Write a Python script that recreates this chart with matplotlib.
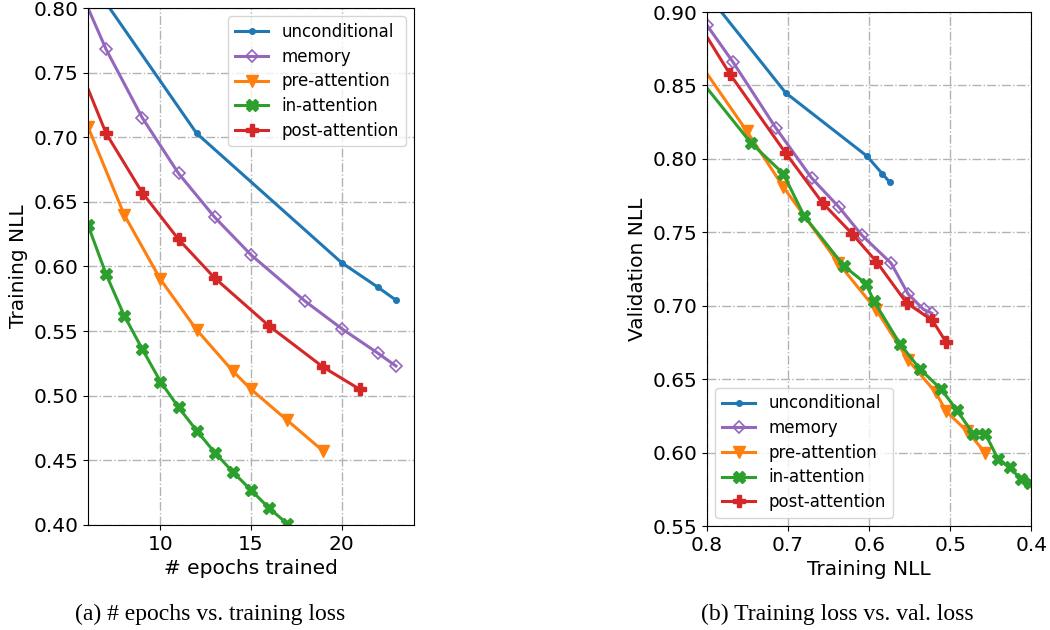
import matplotlib
matplotlib.use('Agg')
import matplotlib.pyplot as plt

# left panel: epochs vs training NLL
ep_uncond = [6, 12, 20, 22, 23]
tr_uncond = [0.824, 0.703, 0.603, 0.584, 0.574]
ep_memory = [5, 7, 9, 11, 13, 15, 18, 20, 22, 23]
tr_memory = [0.832, 0.768, 0.715, 0.672, 0.638, 0.609, 0.573, 0.552, 0.533, 0.523]
ep_pre = [6, 8, 10, 12, 14, 15, 17, 19]
tr_pre = [0.708, 0.640, 0.590, 0.551, 0.519, 0.505, 0.481, 0.457]
ep_in = [6, 7, 8, 9, 10, 11, 12, 13, 14, 15, 16, 17]
tr_in = [0.632, 0.594, 0.562, 0.536, 0.511, 0.491, 0.473, 0.456, 0.441, 0.427, 0.413, 0.401]
ep_post = [5, 7, 9, 11, 13, 16, 19, 21]
tr_post = [0.772, 0.703, 0.657, 0.621, 0.591, 0.554, 0.522, 0.505]

# right panel: training NLL vs validation NLL
rx_uncond = [0.824, 0.703, 0.603, 0.584, 0.5745]
ry_uncond = [0.929, 0.845, 0.802, 0.790, 0.784]
rx_memory = [0.800, 0.768, 0.715, 0.671, 0.637, 0.609, 0.573, 0.552, 0.533, 0.523]
ry_memory = [0.891, 0.866, 0.821, 0.787, 0.767, 0.748, 0.729, 0.708, 0.6975, 0.695]
rx_pre = [0.82, 0.751, 0.706, 0.638, 0.591, 0.552, 0.518, 0.505, 0.480, 0.457]
ry_pre = [0.874, 0.819, 0.781, 0.729, 0.697, 0.663, 0.641, 0.628, 0.615, 0.600]
rx_in = [0.82, 0.746, 0.706, 0.680, 0.631, 0.604, 0.594, 0.562, 0.5375, 0.511,
         0.492, 0.472, 0.457, 0.441, 0.427, 0.413, 0.402]
ry_in = [0.862, 0.811, 0.790, 0.761, 0.727, 0.715, 0.703, 0.674, 0.657, 0.643,
         0.629, 0.613, 0.613, 0.5955, 0.590, 0.582, 0.579]
rx_post = [0.82, 0.772, 0.703, 0.6575, 0.621, 0.591, 0.554, 0.522, 0.505]
ry_post = [0.901, 0.858, 0.804, 0.770, 0.749, 0.730, 0.702, 0.690, 0.675]

labels = ['unconditional', 'memory', 'pre-attention', 'in-attention', 'post-attention']
colors = ['tab:blue', 'tab:purple', 'tab:orange', 'tab:green', 'tab:red']
markers = ['.', 'D', 'v', 'X', 'P']
msizes = [8, 6, 9, 8.5, 9]

plt.rcParams['font.family'] = 'DejaVu Sans'

fig = plt.figure(figsize=(10.5, 6.3), dpi=100)
ax1 = fig.add_axes([0.0838, 0.1667, 0.3105, 0.8206])
ax2 = fig.add_axes([0.6733, 0.165, 0.3090, 0.8159])


def draw(ax, series):
    for (x, y), lab, c, m, ms in zip(series, labels, colors, markers, msizes):
        if m == 'D':
            ax.plot(x, y, color=c, marker=m, ms=ms, lw=2.2, label=lab,
                    fillstyle='none', markeredgewidth=1.2)
        else:
            ax.plot(x, y, color=c, marker=m, ms=ms, lw=2.2, label=lab)
    ax.grid(True, linestyle='-.', color='0.7', linewidth=1)
    ax.tick_params(labelsize=14.5)


draw(ax1, [(ep_uncond, tr_uncond), (ep_memory, tr_memory), (ep_pre, tr_pre),
           (ep_in, tr_in), (ep_post, tr_post)])
ax1.set_xlim(6, 24)
ax1.set_ylim(0.40, 0.80)
ax1.set_xticks([10, 15, 20])
ax1.set_yticks([0.40, 0.45, 0.50, 0.55, 0.60, 0.65, 0.70, 0.75, 0.80])
ax1.set_yticklabels(['%.2f' % v for v in ax1.get_yticks()])
ax1.set_xlabel('# epochs trained', fontsize=14.5)
ax1.set_ylabel('Training NLL', fontsize=14.5)
ax1.legend(loc='upper right', fontsize=12, labelspacing=0.4)

draw(ax2, [(rx_uncond, ry_uncond), (rx_memory, ry_memory), (rx_pre, ry_pre),
           (rx_in, ry_in), (rx_post, ry_post)])
ax2.set_xlim(0.8, 0.4)
ax2.set_ylim(0.55, 0.90)
ax2.set_xticks([0.8, 0.7, 0.6, 0.5, 0.4])
ax2.set_yticks([0.55, 0.60, 0.65, 0.70, 0.75, 0.80, 0.85, 0.90])
ax2.set_yticklabels(['%.2f' % v for v in ax2.get_yticks()])
ax2.set_xlabel('Training NLL', fontsize=14.5)
ax2.set_ylabel('Validation NLL', fontsize=14.5)
ax2.legend(loc='lower left', fontsize=12, labelspacing=0.4)

fig.text(0.2, 0.024, '(a) # epochs vs. training loss', ha='center', va='center',
         fontsize=17, family='Liberation Serif')
fig.text(0.7976, 0.024, '(b) Training loss vs. val. loss', ha='center', va='center',
         fontsize=17, family='Liberation Serif')

fig.savefig('out.png', dpi=100)
